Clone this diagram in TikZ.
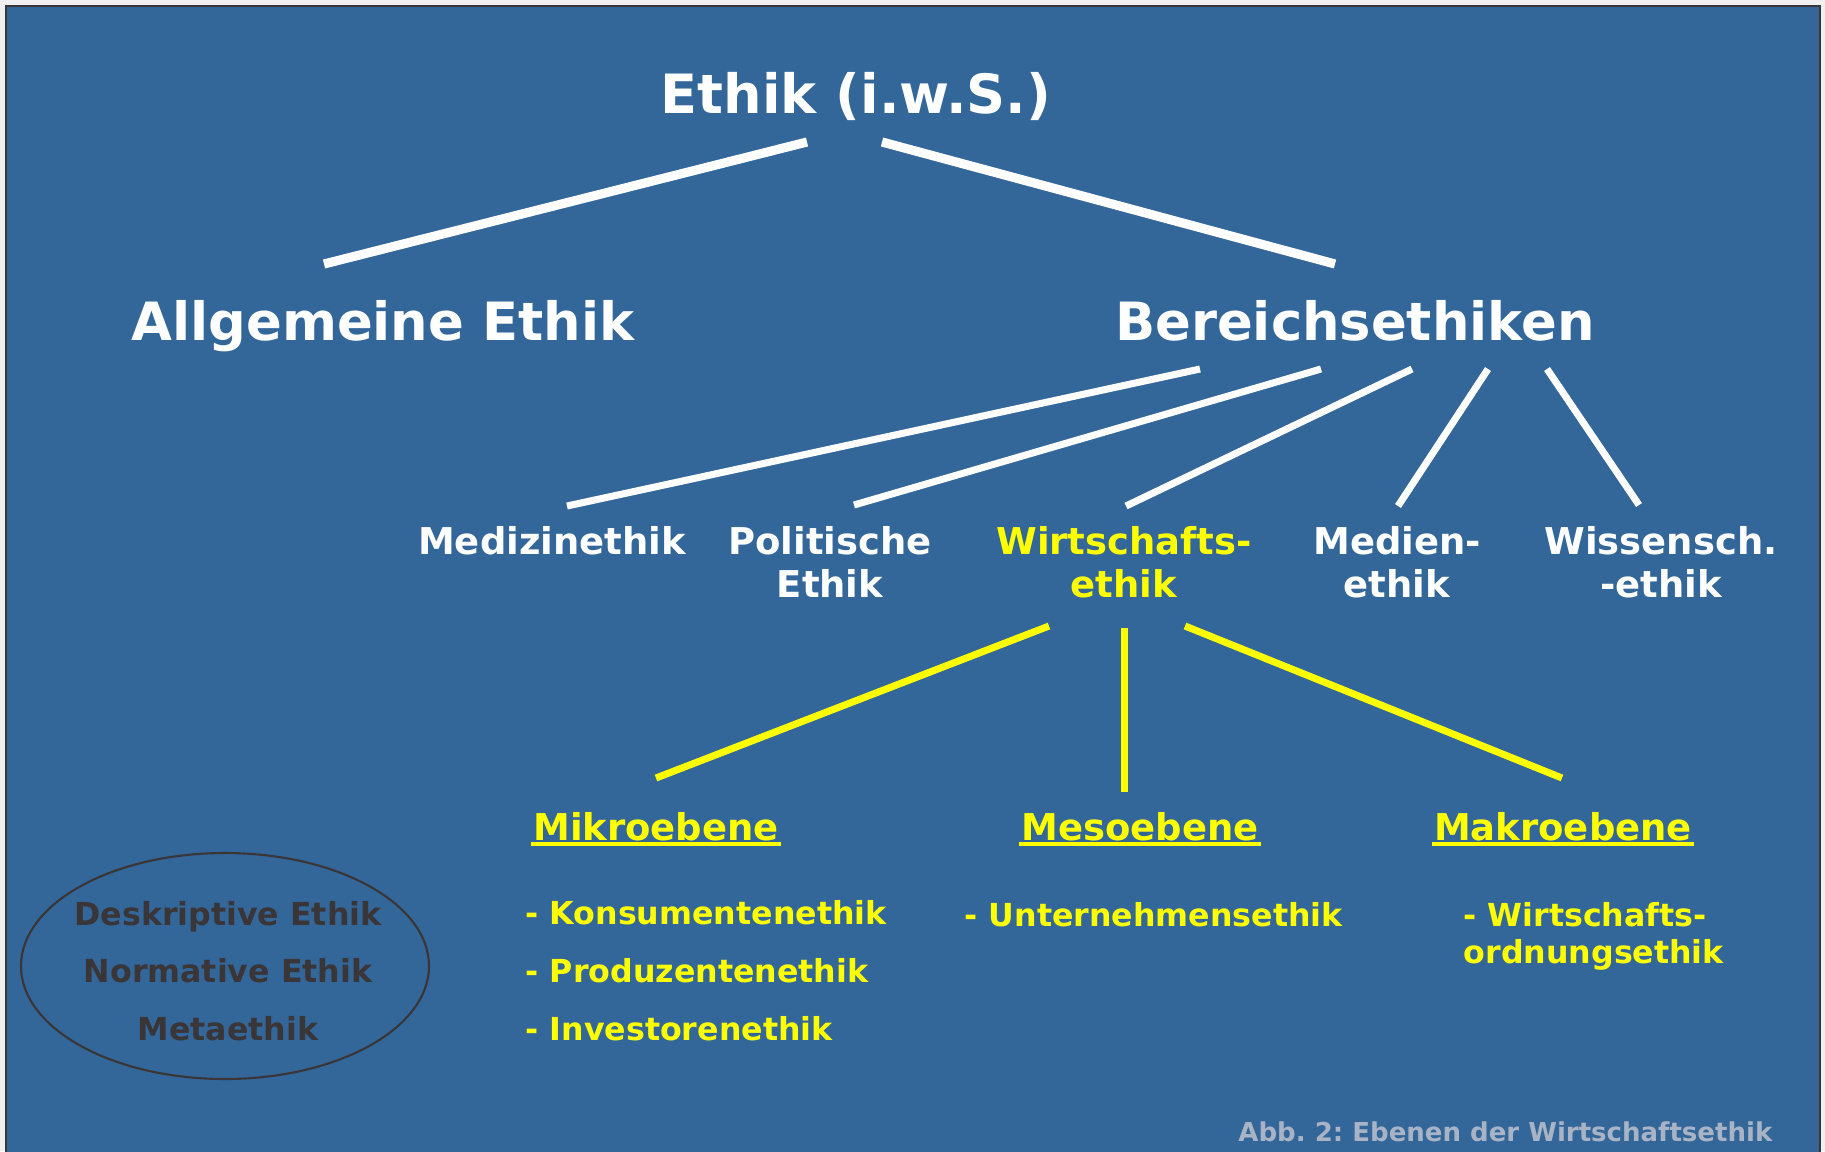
\documentclass[tikz,border=0pt]{standalone}
\usepackage{fontspec}
\setmainfont{DejaVu Sans}
\usepackage{tikz}
\usetikzlibrary{calc,shapes.geometric}
\definecolor{bgblue}{HTML}{336699}
\definecolor{gelb}{HTML}{FFFF00}
\definecolor{dgrau}{HTML}{3A3536}
\definecolor{capgrau}{HTML}{A8B4C6}
\newcommand{\unterstr}[1]{\setbox0\hbox{#1}\rlap{\kern-0.6pt\vrule height -0.5pt depth 1.6pt width \dimexpr\wd0+1.2pt\relax}\box0}
\frenchspacing

\begin{document}
\begin{tikzpicture}[x=0.01cm,y=-0.01cm,
  every node/.style={inner sep=0pt},
  big/.style={font=\fontsize{15}{18}\selectfont\bfseries,text=white,anchor=base},
  mid/.style={font=\fontsize{10.5}{12.2}\selectfont\bfseries,text=white,align=center,anchor=base},
  ebene/.style={font=\fontsize{10.5}{12}\selectfont\bfseries,text=gelb,anchor=base},
  punkt/.style={font=\fontsize{9}{16.4}\selectfont\bfseries,text=gelb,align=left,anchor=base west},
  ast/.style={white,line width=2.6pt},
  zweig/.style={white,line width=2pt},
  gl/.style={gelb,line width=2pt}]
 \useasboundingbox (0,0) rectangle (1825,1151);
 \fill[gray!12] (0,0) rectangle (1825,1151);
 \draw[fill=bgblue,draw=dgrau,line width=0.6pt] (6,6) rectangle (1820,1170);
 % oberste Ebenen
 \node[big,font=\fontsize{15.4}{18}\selectfont\bfseries] (ethik) at (856,113) {Ethik (i.w.S.)};
 \node[big] (allg) at (383,340) {Allgemeine Ethik};
 \node[big] (ber) at (1355,340) {Bereichsethiken};
 \draw[ast] ($(ethik.base)+(-49,29)$) -- ($(allg.base)+(-59,-76)$);
 \draw[ast] ($(ethik.base)+(26,29)$) -- ($(ber.base)+(-20,-76)$);
 % Bereichsethiken (base = letzte Zeile)
 \node[mid] (med) at (552,554) {Medizinethik};
 \node[mid] (pol) at (830,597) {Politische\\Ethik};
 \node[mid,text=gelb] (wirt) at (1124,597) {Wirtschafts-\\ethik};
 \node[mid] (medien) at (1397,597) {Medien-\\ethik};
 \node[mid] (wiss) at (1661,597) {Wissensch.\\-ethik};
 \draw[zweig] ($(ber.base)+(-155,29)$) -- ($(med.base)+(15,-48)$);
 \draw[zweig] ($(ber.base)+(-34,29)$) -- ($(pol.base)+(24,-92)$);
 \draw[zweig] ($(ber.base)+(57,29)$) -- ($(wirt.base)+(2,-91)$);
 \draw[zweig] ($(ber.base)+(133,29)$) -- ($(medien.base)+(1,-91)$);
 \draw[zweig] ($(ber.base)+(192,29)$) -- ($(wiss.base)+(-22,-92)$);
 % Ebenen der Wirtschaftsethik
 \node[ebene] (mikro) at (656,840) {\unterstr{Mikroebene}};
 \node[ebene] (meso) at (1140,840) {\unterstr{Mesoebene}};
 \node[ebene] (makro) at (1563,840) {\unterstr{Makroebene}};
 \draw[gl] ($(wirt.base)+(-75,29)$) -- ($(mikro.base)+(0,-62)$);
 \draw[gl] ($(wirt.base)+(0,31)$) -- ($(meso.base)+(-16,-48)$);
 \draw[gl] ($(wirt.base)+(61,29)$) -- ($(makro.base)+(-1,-62)$);
 \node[punkt] (mikrol) at (525,1040) {- Konsumentenethik\\- Produzentenethik\\- Investorenethik};
 \node[punkt] (mesol) at (964,926) {- Unternehmensethik};
 \node[punkt,font=\fontsize{9}{10.5}\selectfont\bfseries] (makrol) at (1463,963) {- Wirtschafts-\\ordnungsethik};
 % Ellipse
 \node[font=\fontsize{9}{16.4}\selectfont\bfseries,text=dgrau,align=center] (ell) at (228,971)
   {Deskriptive Ethik\\Normative Ethik\\Metaethik};
 \draw[dgrau,line width=0.6pt] ($(ell.center)+(-3,-5)$) ellipse [x radius=204,y radius=113];
 \node[font=\fontsize{7.4}{9}\selectfont\bfseries,text=capgrau,anchor=base east] (cap) at (1773,1141)
   {Abb. 2: Ebenen der Wirtschaftsethik};
\end{tikzpicture}
\end{document}
